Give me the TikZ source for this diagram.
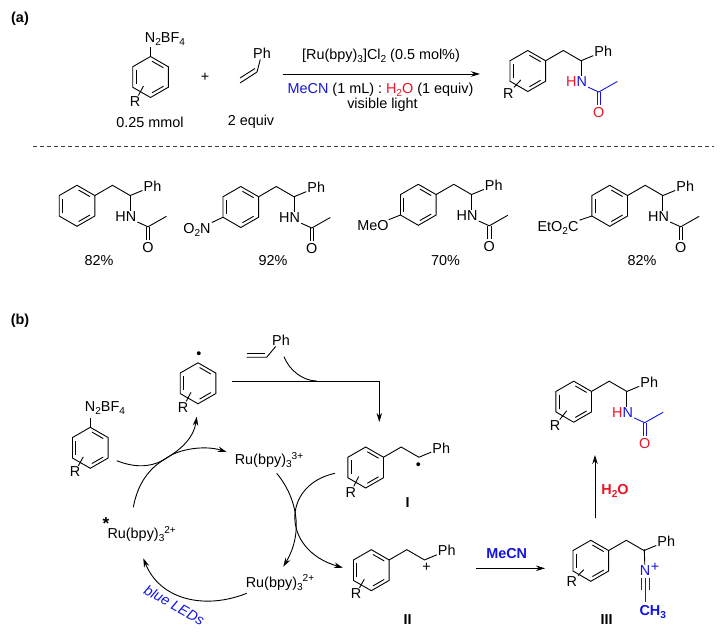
\documentclass[tikz,border=0pt]{standalone}
\usepackage{fontspec}
\setmainfont{Liberation Sans}[Scale=1.44]
\usetikzlibrary{arrows.meta}
\definecolor{chemblue}{RGB}{20,20,225}
\definecolor{chemred}{RGB}{235,20,40}
\newcommand{\sbs}[1]{\raisebox{-3pt}{\fontsize{7}{8}\selectfont #1}}
\newcommand{\sps}[1]{\raisebox{5.5pt}{\fontsize{7}{8}\selectfont #1}}
\newcommand{\amidecode}[4]{
\coordinate (c2) at (53.2,-10.25);
\coordinate (c3) at (71,21);
\node[chem] (hn) at (48.8,11) {\textcolor{#1}{H}\textcolor{#2}{N}};
\node[chem] (oxy) at (71,41.5) {\textcolor{#3}{O}};
\draw[bond] (c2) -- (c2 |- hn.north);
\draw[bond,#4] (hn) -- (c3) -- (89.5,10.5);
\draw[bond,#4] (69.3,21) -- (69.3,34.5);
\draw[bond,#4] (72.7,21) -- (72.7,34.5);
}
\tikzset{
  bond/.style={line width=.9pt},
  chem/.style={inner sep=1pt},
  lab/.style={inner sep=1pt},
  curved/.style={line width=.9pt,-{Stealth[length=9pt,width=5.5pt]}},
  arene/.pic={
    \draw[bond] (0,-20.5) -- (17.8,-10.25) -- (17.8,10.25) -- (0,20.5) -- (-17.8,10.25) -- (-17.8,-10.25) -- cycle;
    \draw[bond] (-14.5,-7) -- (-14.5,7);
    \draw[bond] (1.6,-15.75) -- (12.9,-9.25);
    \draw[bond] (1.6,15.75) -- (12.9,9.25);
  },
  Rarene/.pic={
    \pic {arene};
    \node[chem] (r) at #1 {R};
    \draw[bond] (-7,9) -- (r);
  },
  tail/.pic={
    \coordinate (c1) at (35.5,-20.5);
    \coordinate (c2) at (53.2,-10.25);
    \node[chem] (ph) at (75.5,-19.5) {Ph};
    \draw[bond] (17.8,-10.25) -- (c1) -- (c2) -- (ph);
  },
  amide/.pic={\amidecode{black}{black}{black}{black}},
  amidecol/.pic={\amidecode{chemred}{chemblue}{chemred}{chemblue}}
}
\begin{document}
\begin{tikzpicture}[x=1pt,y=-1pt]
\useasboundingbox (0,0) rectangle (721,636);
\node[lab] (parta) at (20,19) {\bfseries (a)};
\node[lab] (partb) at (20,321) {\bfseries (b)};

\pic (sm) at (150.5,77) {Rarene={(-15.5,24.7)}};
\node[chem] (smn) at (165,39) {N\sbs{2}BF\sbs{4}};
\draw[bond] (150.5,56.5) -- (150.5,47);
\node[lab] (smamt) at (150,122) {0.25 mmol};
\node[lab] (plus) at (205,77) {+};
\node[chem] (stph) at (262,53) {Ph};
\coordinate (stc) at (257,72);
\draw[bond] (stph) -- (stc);
\draw[bond] (stc) -- (240,83);
\draw[bond] (255,68.5) -- (240,78);
\node[lab] (stamt) at (251,122) {2 equiv};
\coordinate (rxa) at (283,74);
\coordinate (rxb) at (480,74);
\draw[curved] (rxa) -- (rxb);
\node[lab] (cond1) at (381,56) {[Ru(bpy)\sbs{3}]Cl\sbs{2} (0.5 mol\%)};
\node[lab] (cond2) at (380.5,89.5) {\textcolor{chemblue}{MeCN} (1 mL) : \textcolor{chemred}{H\sbs{2}O} (1 equiv)};
\node[lab] (cond3) at (382.5,105) {visible light};
\pic (pr) at (527.8,71) {Rarene={(-19.5,22.5)}};
\pic (prt) at (527.8,71) {tail};
\pic (pra) at (527.8,71) {amidecol};

\draw[line width=.7pt,dashed,dash pattern=on 4.2pt off 2.8pt,black!75] (33,146) -- (714,146);

\pic (y1) at (77,205.8) {arene};
\pic (y1t) at (77,205.8) {tail};
\pic (y1a) at (77,205.8) {amide};
\node[lab] (y1v) at (99,260.5) {82\%};

\pic (y2) at (240.8,207) {arene};
\pic (y2t) at (240.8,207) {tail};
\pic (y2a) at (240.8,207) {amide};
\node[chem] (nitro) at (197,229.5) {O\sbs{2}N};
\draw[bond] (223,217.25) -- (nitro);
\node[lab] (y2v) at (273,260.5) {92\%};

\pic (y3) at (418.3,204.8) {arene};
\pic (y3t) at (418.3,204.8) {tail};
\pic (y3a) at (418.3,204.8) {amide};
\node[chem] (meo) at (373,226) {MeO};
\draw[bond] (400.5,215) -- (meo);
\node[lab] (y3v) at (445.5,260.5) {70\%};

\pic (y4) at (609.7,205.8) {arene};
\pic (y4t) at (609.7,205.8) {tail};
\pic (y4a) at (609.7,205.8) {amide};
\node[chem] (ester) at (558,227.5) {EtO\sbs{2}C};
\draw[bond] (591.9,216) -- (ester);
\node[lab] (y4v) at (642,260.5) {82\%};

\pic (dz) at (90.3,447.8) {Rarene={(-15.3,24.2)}};
\node[chem] (dzn) at (105,408) {N\sbs{2}BF\sbs{4}};
\draw[bond] (90.3,427.3) -- (90.3,418);

\pic (rad) at (198,383.3) {Rarene={(-15,24.2)}};
\node[chem] (raddot) at (199,355) {\textbullet};

\node[chem] (ph2) at (281,340) {Ph};
\coordinate (vc) at (266.7,357.3);
\draw[bond] (ph2) -- (vc) -- (246.7,357.3);
\draw[bond] (265,353.3) -- (246.7,353.3);

\coordinate (ha) at (231.7,381);
\coordinate (hb) at (379.3,381);
\coordinate (hc) at (379.3,422);
\coordinate (hm) at (316.7,381);
\coordinate (sa) at (284,356.7);
\draw[curved] (ha) -- (hb) -- (hc);
\draw[bond] (sa) .. controls (289,370) and (303,381) .. (hm);

\node[lab] (ru3) at (269,460) {Ru(bpy)\sbs{3}\sps{3+}};
\node[lab] (ru2) at (280,582.5) {Ru(bpy)\sbs{3}\sps{2+}};
\node[lab] (rust) at (141.7,534) {Ru(bpy)\sbs{3}\sps{2+}};
\node[inner sep=0pt] (star) at (106,524) {\fontsize{12}{13}\selectfont\bfseries *};

\coordinate (aa) at (116.7,460.7);
\coordinate (ab) at (226.7,452);
\coordinate (ba) at (133.3,507.3);
\coordinate (bb) at (196.7,416.7);
\coordinate (ca) at (276.7,473.3);
\coordinate (cb) at (283.3,566.7);
\coordinate (da) at (335,473.3);
\coordinate (db) at (343,567.7);
\coordinate (ea) at (246.7,593.3);
\coordinate (eb) at (143.3,558.3);
\draw[curved] (aa) .. controls (135,468) and (153,468) .. (168,457) .. controls (180,449) and (205,445) .. (ab);
\draw[curved] (ba) .. controls (138,482) and (150,468) .. (165,459) .. controls (182,449) and (194,437) .. (bb);
\draw[curved] (ca) .. controls (295,495) and (305,530) .. (cb);
\draw[curved] (da) .. controls (281,485) and (281,550) .. (db);
\draw[curved] (ea) .. controls (205,610) and (160,600) .. (eb);
\node[lab,rotate=-29,text=chemblue] (leds) at (174.5,605) {\itshape blue LEDs};

\pic (ia) at (365.7,467.5) {Rarene={(-15,25)}};
\pic (iat) at (365.7,467.5) {tail};
\node[chem] (idot) at (418.3,465.7) {\textbullet};
\node[lab] (ilab) at (407.7,502.3) {\bfseries I};

\pic (ib) at (371.3,570.2) {Rarene={(-15.3,23.8)}};
\pic (ibt) at (371.3,570.2) {tail};
\node[chem] (iplus) at (426.7,567.3) {+};
\node[lab] (iilab) at (407.7,619.3) {\bfseries II};

\coordinate (ma) at (476,568.3);
\coordinate (mb) at (545,568.3);
\draw[curved] (ma) -- (mb);
\node[lab,text=chemblue] (mecn) at (506.7,553.3) {\bfseries MeCN};

\pic (ic) at (590.8,560.8) {Rarene={(-19,21)}};
\pic (ict) at (590.8,560.8) {tail};
\node[chem,text=chemblue] (nit) at (645,570.7) {N};
\node[chem,text=chemblue] (nplus) at (655,567.5) {+};
\coordinate (cc) at (644.3,549.3);
\draw[bond] (cc) -- (nit);
\coordinate (tb) at (645,601.7);
\draw[bond,chemblue] (645,578) -- (tb);
\draw[bond,chemblue] (641,578) -- (641,590);
\draw[bond,chemblue] (649,578) -- (649,590);
\node[chem,text=chemblue] (me) at (652.7,612.3) {\bfseries CH\sbs{3}};
\node[lab] (iiilab) at (606.7,620) {\bfseries III};

\coordinate (ua) at (595,518.3);
\coordinate (ub) at (595,455);
\draw[curved] (ua) -- (ub);
\node[lab,text=chemred] (water) at (615,490.5) {\bfseries H\sbs{2}O};

\pic (fp) at (573.7,401.7) {Rarene={(-18.7,24)}};
\pic (fpt) at (573.7,401.7) {tail};
\pic (fpa) at (573.7,401.7) {amidecol};
\end{tikzpicture}
\end{document}
